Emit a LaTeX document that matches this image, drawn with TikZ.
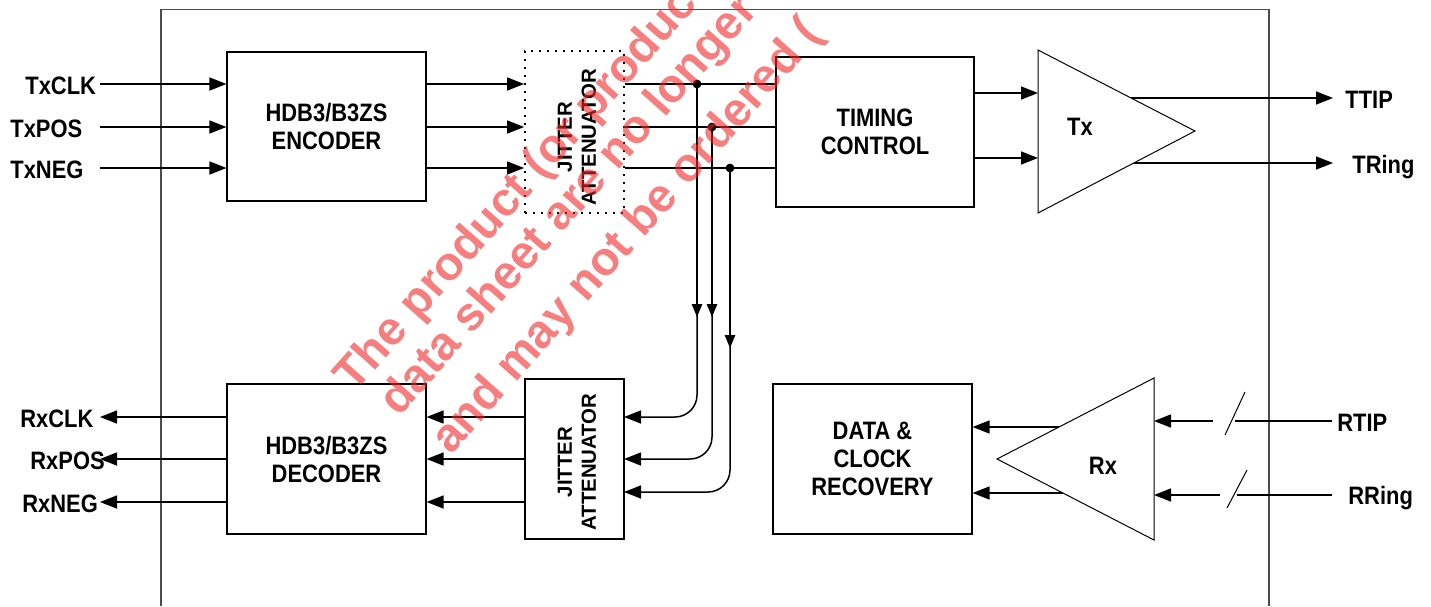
\documentclass[tikz,border=0pt]{standalone}
\usepackage{fontspec}
\setmainfont{Liberation Sans}
\newfontfamily\narrowsans{Liberation Sans}[FakeStretch=0.87]
\usetikzlibrary{arrows.meta}

\definecolor{WmRed}{RGB}{240,40,40}
\newcommand\pinfont{\narrowsans\bfseries\fontsize{12.6}{14}\selectfont}
\newcommand\jafont{\bfseries\fontsize{10.2}{12}\selectfont}
\newcommand\wmfont{\bfseries\fontsize{23.5}{27}\selectfont}

\begin{document}
\begin{tikzpicture}[
    x=0.5pt, y=-0.5pt,
    block/.style={rectangle, draw, line width=0.55pt, inner sep=0pt, align=center, font=\pinfont},
    dotblock/.style={rectangle, draw, line width=0.9pt, dash pattern=on 0.8pt off 3.2pt, inner sep=0pt},
    jalabel/.style={rotate=90, align=center, inner sep=0pt, font=\jafont},
    wire/.style={line width=0.75pt},
    sig/.style={wire, -{Triangle[length=8.5pt,width=6.5pt]}},
    down/.style={wire, -{Triangle[length=6.5pt,width=5.2pt]}},
    feed/.style={sig, rounded corners=11pt},
    dot/.style={circle, fill, inner sep=0pt, minimum size=4.4pt},
    pin/.style={font=\pinfont, inner sep=0pt, anchor=base west},
    amp/.style={line width=0.5pt},
    frame/.style={draw=black!70, line width=0.75pt},
    wm/.style={font=\wmfont, text=WmRed, text opacity=0.6, inner sep=0pt, anchor=base west, rotate=48.5}
  ]
  \useasboundingbox (0,0) rectangle (1431,606);
  % device outline
  \draw[frame] (161,606) |- (1269,9.5) -- (1269,606);

  % transmit side
  \node[block, minimum width=99.5pt, minimum height=74.5pt] (enc) at (326.5,126.5) {HDB3/B3ZS\\ENCODER};
  \node[dotblock, minimum width=49.5pt, minimum height=81pt] (jat) at (574.5,132) {};
  \node[jalabel] (jatl) at (577,137) {JITTER\\ATTENUATOR};
  \node[block, minimum width=99pt, minimum height=75pt] (tim) at (875,132) {TIMING\\CONTROL};

  % receive side
  \node[block, minimum width=99.5pt, minimum height=75pt] (dec) at (326.5,459) {HDB3/B3ZS\\DECODER};
  \node[block, minimum width=49.5pt, minimum height=80pt] (jar) at (574.5,459) {};
  \node[jalabel] (jarl) at (577,462) {JITTER\\ATTENUATOR};
  \node[block, minimum width=99.5pt, minimum height=75pt] (dcr) at (872.5,459) {DATA \&\\CLOCK\\RECOVERY};

  % pins
  \node[pin] (txclk) at (25,94) {TxCLK};
  \node[pin] (txpos) at (10,137) {TxPOS};
  \node[pin] (txneg) at (10,178) {TxNEG};
  \node[pin] (rxclk) at (20,427) {RxCLK};
  \node[pin] (rxpos) at (30,469) {RxPOS};
  \node[pin] (rxneg) at (22,512) {RxNEG};
  \node[pin] (ttip) at (1345,108) {TTIP};
  \node[pin] (tring) at (1352,173) {TRing};
  \node[pin] (rtip) at (1337,431) {RTIP};
  \node[pin] (rring) at (1348,504) {RRing};

  % transmit data path
  \coordinate (in1) at (100,84);
  \coordinate (in2) at (100,127);
  \coordinate (in3) at (100,168);
  \foreach \n in {1,2,3} {
    \draw[sig] (in\n) -- (enc.west |- in\n);
    \draw[sig] (enc.east |- in\n) -- (jat.west |- in\n);
    \draw[wire] (jat.east |- in\n) -- (tim.west |- in\n);
  }

  % taps to receive jitter attenuator
  \node[dot] (j1) at (697,84) {};
  \node[dot] (j2) at (712,127) {};
  \node[dot] (j3) at (730,168) {};
  \coordinate (fb1) at (624,417);
  \coordinate (fb2) at (624,459);
  \coordinate (fb3) at (624,492);
  \draw[feed] (j1.center) |- (fb1);
  \draw[feed] (j2.center) |- (fb2);
  \draw[feed] (j3.center) |- (fb3);
  \draw[down] (j1.center) -- ++(0,233);
  \draw[down] (j2.center) -- ++(0,190);
  \draw[down] (j3.center) -- ++(0,180);

  % receive data path
  \coordinate (out1) at (100,417);
  \coordinate (out2) at (100,459);
  \coordinate (out3) at (100,502);
  \foreach \n in {1,2,3} {
    \draw[sig] (jar.west |- out\n) -- (dec.east |- out\n);
    \draw[sig] (dec.west |- out\n) -- (out\n);
  }

  % Tx driver
  \coordinate (txa) at (1038,50);
  \coordinate (txb) at (1195,131);
  \coordinate (txc) at (1038,213);
  \draw[amp] (txa) -- (txb) -- (txc) -- cycle;
  \node[pin, anchor=center] (txl) at (1080,127) {Tx};
  \coordinate (txi1) at (1038,93);
  \coordinate (txi2) at (1038,158);
  \draw[sig] (tim.east |- txi1) -- (txi1);
  \draw[sig] (tim.east |- txi2) -- (txi2);
  \coordinate (txo1) at (1131,98);
  \coordinate (txo2) at (1134,163);
  \draw[sig, shorten >=6pt] (txo1) -- (ttip.west |- txo1);
  \draw[sig, shorten >=9.5pt] (txo2) -- (tring.west |- txo2);

  % Rx receiver
  \coordinate (rxa) at (1154,378);
  \coordinate (rxb) at (997,459);
  \coordinate (rxc) at (1154,540);
  \draw[amp] (rxa) -- (rxb) -- (rxc) -- cycle;
  \node[pin, anchor=center] (rxl) at (1103,466) {Rx};
  \coordinate (rxo1) at (1059,427);
  \coordinate (rxo2) at (1063,493);
  \draw[sig] (rxo1) -- (dcr.east |- rxo1);
  \draw[sig] (rxo2) -- (dcr.east |- rxo2);
  \coordinate (rxi1) at (1213,421);
  \coordinate (rxi2) at (1220,495);
  \draw[sig] (rxi1) -- (rxa |- rxi1);
  \draw[sig] (rxi2) -- (rxa |- rxi2);
  \draw[amp] (1225,435) -- (1245,392);
  \draw[amp] (1227,508) -- (1247,470);
  \coordinate (rl1) at (1235,421);
  \coordinate (rl2) at (1237,495);
  \draw[wire, shorten >=2.5pt] (rl1) -- (rtip.west |- rl1);
  \draw[wire, shorten >=8pt] (rl2) -- (rring.west |- rl2);

  % watermark
  \begin{scope}
    \clip (0,0) rectangle (1431,606);
    \node[wm] (wm1) at (354,394) {The product (or produc};
    \node[wm] (wm2) at (399,418) {data sheet are no longer};
    \node[wm] (wm3) at (451,456) {and may not be ordered (};
  \end{scope}
\end{tikzpicture}
\end{document}
